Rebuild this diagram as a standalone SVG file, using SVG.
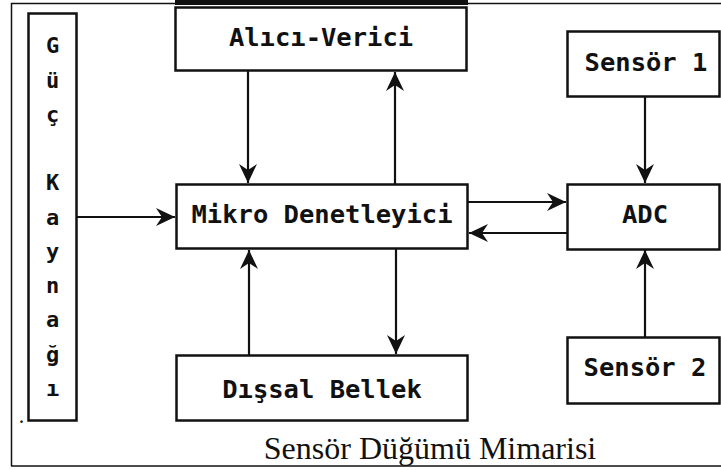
<svg xmlns="http://www.w3.org/2000/svg" width="721" height="470" viewBox="0 0 721 470">
<style>
.box{fill:#fff;stroke:#111;stroke-width:2.5}
.lbl{font-family:"DejaVu Sans Mono",monospace;font-weight:bold;font-size:25.5px;fill:#111;text-anchor:middle}
.pw{font-family:"DejaVu Sans Mono",monospace;font-weight:bold;font-size:22px;fill:#111;text-anchor:middle}
.cap{font-family:"Liberation Serif",serif;font-size:32px;fill:#111;text-anchor:middle}
.con{fill:none;stroke:#111;stroke-width:2.2;marker-end:url(#ah)}
</style>
<defs>
<marker id="ah" viewBox="-20 -10 21 20" refX="0" refY="0" markerWidth="21" markerHeight="20" markerUnits="userSpaceOnUse" orient="auto">
<path d="M0,0 L-19,-9 L-13,0 L-19,9 Z" fill="#111"/>
</marker>
</defs>
<rect width="721" height="470" fill="#fff"/>
<g id="frame">
<path d="M11.5,466 L11.5,3.5 L721,3.5" fill="none" stroke="#111" stroke-width="1.5"/>
<path d="M11,466 L721,466" fill="none" stroke="#111" stroke-width="1.5"/>
<rect x="175" y="0" width="293" height="5" fill="#111"/>
</g>
<g id="power">
<rect class="box" x="28.5" y="13.5" width="48" height="407" stroke-width="3"/>
<text class="pw" x="52.5" y="53">G</text>
<text class="pw" x="52.5" y="87.5">ü</text>
<text class="pw" x="52.5" y="121.5">ç</text>
<text class="pw" x="52.5" y="190">K</text>
<text class="pw" x="52.5" y="224.5">a</text>
<text class="pw" x="52.5" y="258.5">y</text>
<text class="pw" x="52.5" y="293">n</text>
<text class="pw" x="52.5" y="327">a</text>
<text class="pw" x="52.5" y="361.5">ğ</text>
<text class="pw" x="52.5" y="395.5">ı</text>
</g>
<g id="transceiver">
<rect class="box" x="175.5" y="7.5" width="291" height="63"/>
<text class="lbl" x="321" y="46">Alıcı-Verici</text>
</g>
<g id="mcu">
<rect class="box" x="176.5" y="184.5" width="291" height="64"/>
<text class="lbl" x="322" y="223">Mikro Denetleyici</text>
</g>
<g id="memory">
<rect class="box" x="176.5" y="355.5" width="291" height="65"/>
<text class="lbl" x="322" y="397.5">Dışsal Bellek</text>
</g>
<g id="sensor1">
<rect class="box" x="567.5" y="31.5" width="152" height="65"/>
<text class="lbl" x="646" y="71">Sensör 1</text>
</g>
<g id="adc">
<rect class="box" x="567.5" y="184.5" width="152" height="65"/>
<text class="lbl" x="645" y="223">ADC</text>
</g>
<g id="sensor2">
<rect class="box" x="567.5" y="337.5" width="152" height="66"/>
<text class="lbl" x="645" y="376">Sensör 2</text>
</g>
<g id="dot">
<text x="19.5" y="423" font-family="Liberation Serif, serif" font-size="16" font-weight="bold" fill="#111">.</text>
</g>
<g id="connectors">
<path class="con" d="M248,71 L248,183"/>
<path class="con" d="M395,184 L395,72"/>
<path class="con" d="M77,217 L175,217"/>
<path class="con" d="M468,202 L566,202"/>
<path class="con" d="M567,233 L469,233"/>
<path class="con" d="M645,97 L645,183"/>
<path class="con" d="M645,337 L645,250"/>
<path class="con" d="M249,355 L249,250"/>
<path class="con" d="M396,249 L396,354"/>
</g>
<g id="caption">
<text class="cap" x="430" y="459">Sensör Düğümü Mimarisi</text>
</g>
</svg>
